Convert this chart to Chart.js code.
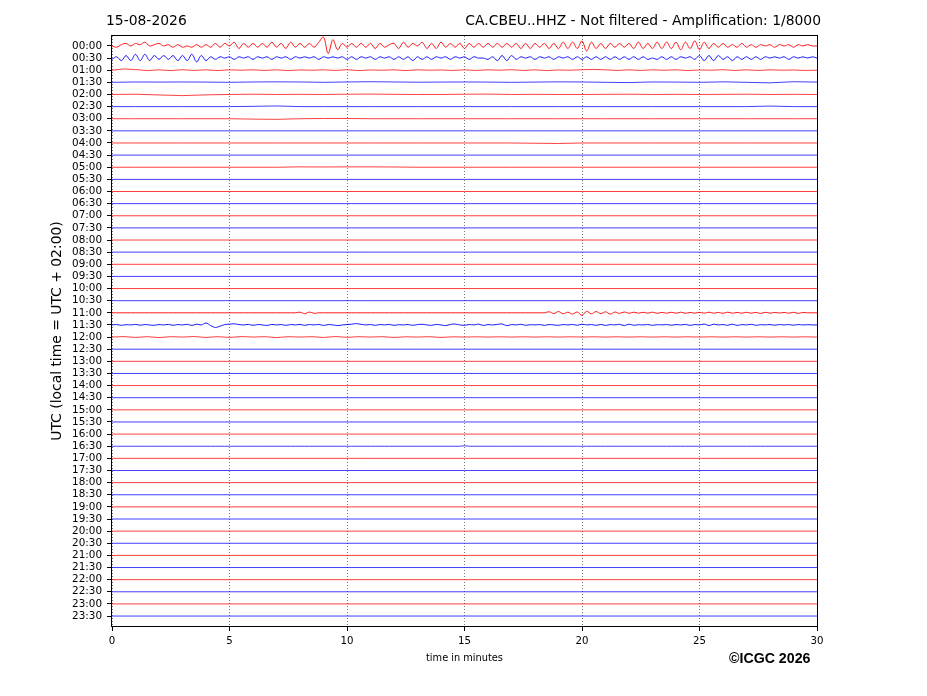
<!DOCTYPE html>
<html>
<head>
<meta charset="utf-8">
<title>CA.CBEU..HHZ helicorder</title>
<script src="https://cdn.jsdelivr.net/npm/chart.js@4.4.1/dist/chart.umd.min.js"></script>
<style>
  body { margin: 0; background: #fff; }
  canvas { display: block; }
</style>
</head>
<body>
<canvas id="helicorder" width="927" height="696"></canvas>
<script>
// tick labels of the rows (UTC, one trace per half hour)
const hourLabels = [
  '00:00','00:30','01:00','01:30','02:00','02:30','03:00','03:30',
  '04:00','04:30','05:00','05:30','06:00','06:30','07:00','07:30',
  '08:00','08:30','09:00','09:30','10:00','10:30','11:00','11:30',
  '12:00','12:30','13:00','13:30','14:00','14:30','15:00','15:30',
  '16:00','16:30','17:00','17:30','18:00','18:30','19:00','19:30',
  '20:00','20:30','21:00','21:30','22:00','22:30','23:00','23:30'
];
const minuteTicks = [0, 5, 10, 15, 20, 25, 30];

// trace samples (upwards positive), evenly spread over 30 min
const r0000 = [
  0, -1, 1, 2, 0, 2, 1, 3, 0, 1,
  2, 0, 1, -1, 1, -1, 0, -1, 1, -1,
  1, -1, 2, -1, 2, 0, 3, -2, 2, -1,
  2, -1, 2, -1, 3, -1, 2, -2, 3, -1,
  2, -1, 2, -1, 3, 7, -6, 5, -3, 2,
  -1, 2, -1, 2, -1, 2, -2, 2, -1, 1,
  2, -2, 3, -1, 2, 0, 3, -2, 2, -2,
  3, -1, 2, -1, 2, -2, 2, -1, 2, -1,
  2, -1, 2, -1, 2, -1, 2, -2, 2, -2,
  2, -1, 2, -2, 2, -2, 3, -2, 3, -2,
  4, -4, 3, -2, 2, -2, 2, -1, 2, -1,
  2, -2, 3, -2, 2, -2, 3, -2, 3, -2,
  3, -3, 3, -2, 4, -3, 3, -2, 2, -1,
  2, -1, 1, -1, 2, -1, 1, -1, 1, 0,
  1, -1, 1, 0, 1, -1, 1, 0, 1, 0, 0
];
const r0030 = [
  -1, 1, -2, 2, -2, 3, -2, 3, -2, 2,
  -1, 2, -1, 2, -2, 2, -2, 3, -3, 2,
  -2, 1, -1, 1, 0, 1, -1, 1, 0, 1,
  -1, 1, 0, 1, -1, 1, 0, 1, -1, 1,
  0, 1, 0, 1, -1, 1, 0, 1, 0, 1,
  -1, 1, -1, 1, 0, 1, -1, 1, 0, 1,
  -1, 1, -1, 1, -2, 1, -1, 1, -1, 1,
  0, 1, -1, 1, 0, 1, -1, 1, 0, 0,
  -1, 1, -2, 2, -2, 2, -1, 1, 0, 1,
  -1, 1, 0, 1, -1, 1, 0, 1, -1, 1,
  -1, 1, -1, 1, -1, 1, -1, 1, -1, 1,
  -1, 1, -1, 1, -1, 0, -1, 1, -1, 1,
  -1, 1, 0, 1, -1, 2, -2, 2, -2, 2,
  -1, 1, -2, 1, -1, 1, -1, 1, -1, 1,
  0, 1, 0, 1, -1, 1, 0, 1, 0, 1, 0
];
const r0100 = [
  0, 1, 0.5, -0.3, 0.3, -0.3, 0.4, -0.2, 0.3, -0.3,
  0.3, 0, 0.3, -0.2, 0.3, -0.3, 0.2, 0, 0.3, -0.2,
  0.4, -0.3, 0.2, 0, 0.3, -0.3, 0.3, 0, 0.2, -0.2,
  0.3, -0.2, 0.3, 0, 0.4, -0.2, 0.3, -0.3, 0.2, 0,
  0.4, 0.6, 0.3, -0.2, 0.3, -0.2, 0.3, 0, 0.3, -0.3,
  0.2, 0, 0.4, -0.2, 0.3, -0.2, 0.3, 0, 0.2, -0.2, 0
];
const r0130 = [
  0, 0.3, 0.2, 0.3, 0.2, 0, 0.3, 0.4, 0.3, 0,
  0.3, 0.5, 0.3, 0.1, 0.2, 0.3, 0.2, 0, 0.2, 0.4,
  0.3, 0, -0.2, 0.3, 0.2, 0, 0.4, 0, -0.4, 0.5, 0.2
];
const r0200 = [
  0, 0.2, -0.4, -0.9, -0.3, 0, 0.2, 0, 0.1, 0,
  0.2, 0.3, 0.1, 0, 0, 0.2, 0.3, 0, 0.1, 0,
  0, 0.1, 0.2, 0, 0.1, 0, 0.1, 0.2, 0, 0.1, 0
];
const r0230 = [
  0, 0, 0, 0, 0, 0, 0.2, 0.5, 0, 0,
  0, 0, 0, 0, 0, 0, 0, 0, 0, 0,
  0, 0, 0, 0, 0, 0, 0, 0, 0.4, 0, 0
];
const r0300 = [
  0, 0, 0, 0, 0, 0, -0.3, -0.5, 0, 0.2,
  0.2, 0, 0, 0, 0, 0, 0, 0, 0, 0,
  0, 0, 0, 0, 0, 0, 0, 0, 0, 0, 0
];
const r0400 = [
  0, 0, 0, 0, 0, 0, 0, 0, 0, 0,
  0, 0, 0, 0, 0, 0, 0, 0, -0.2, -0.4,
  0, 0, 0, 0, 0, 0, 0, 0, 0, 0, 0
];
const r0500 = [
  0, 0, 0, 0, 0, 0, 0, 0, 0.3, 0.2,
  0.3, 0.3, 0.2, 0, 0, 0, 0, 0, 0, 0,
  0, 0, 0, 0, 0, 0, 0, 0, 0, 0, 0
];
const r1100 = [
  0, 0, 0, 0, 0, 0, 0, 0, 0, 0,
  0, 0, 0, 0, 0, 0, 0, 0, 0, 0,
  0, 0, 0, 0, 0, 0, 0, 0, 0, 0,
  0, 0, 0, 0, 0, 0, 0, 0, 0, 0,
  0.5, -0.7, 0.6, -0.4, 0, 0, 0, 0, 0, 0,
  0, 0, 0, 0, 0, 0, 0, 0, 0, 0,
  0, 0, 0, 0, 0, 0, 0, 0, 0, 0,
  0, 0, 0, 0, 0, 0, 0, 0, 0, 0,
  0, 0, 0, 0, 0, 0, 0, 0, 0, 0,
  0, 0, 0, 0.8, -0.6, 1, -0.8, 0.5, -1, 0.6,
  -2, 1.2, -0.8, 1, -0.6, 0.8, -1, 0.6, -0.5, 0.7,
  -0.4, 0.5, -0.3, 0.4, -0.3, 0.5, -0.4, 0.3, -0.3, 0.4,
  -0.3, 0.5, -0.4, 0.3, -0.3, 0.4, -0.3, 0.5, -0.3, 0.3,
  -0.4, 0.5, -0.3, 0.3, -0.3, 0.4, -0.3, 0.3, -0.5, 0.4,
  -0.3, 0.3, -0.2, 0.3, -0.3, 0.4, -0.5, 0.3, 0, 0, 0
];
const r1130 = [
  0, 0.3, -0.3, 0.2, 0, 0.4, -0.2, 0.3, 0, -0.3,
  0.3, 0, 0.4, -0.3, 0.3, 0, 0.5, -0.4, 0.6, 0,
  1.5, -0.5, -2, -1, 0.3, 0.6, 0.9, 0.3, 0, 0.4,
  -0.3, 0.3, 0, -0.4, 0.4, 0, 0.3, -0.3, 0.3, 0,
  0.4, -0.3, 0.3, 0, 0.4, -0.4, 0.3, 0, -0.5, 0,
  0.3, 0.6, 1, 0.5, 0, 0.3, -0.3, 0.3, 0, 0.4,
  -0.3, 0.2, 0, 0.3, -0.3, 0.3, 0.5, 0, -0.3, 0.4,
  0, -0.5, 0.4, 0.7, 0, -0.3, 0.3, 0, 0.6, -0.4,
  0.3, 0, 0.4, 0.8, -0.6, 0.3, 0, 0.5, -0.3, 0.2,
  0, 0.3, -0.3, 0.3, 0, -0.3, 0.3, 0, 0.4, -0.3,
  0.6, 0, 0.3, -0.3, 0.4, -0.4, 0.3, 0, 0.5, -0.5,
  0.6, -0.3, 0.2, 0, 0.3, -0.3, 0.2, 0, 0.3, -0.2,
  0.3, 0, 0.4, -0.3, 0.3, 0, 0.7, -0.5, 0.6, 0,
  0.3, -0.3, 0.6, -0.4, 0.3, 0, 0.5, -0.3, 0.2, 0,
  0.3, -0.2, 0.3, 0, 0.3, -0.2, 0.3, 0, 0.2, 0, 0
];
const r1200 = [
  0, 0.4, -0.3, 0.3, -0.4, 0.3, 0, 0.4, -0.3, 0.3,
  -0.3, 0.4, 0, 0.3, -0.4, 0.3, 0, 0.3, -0.3, 0.4,
  -0.2, 0.3, 0, 0.3, -0.3, 0.2, 0, 0.3, -0.3, 0.2,
  0, 0.2, 0, 0.2, 0, 0.2, 0, 0.2, 0, 0.2,
  0, 0.2, 0, 0.2, 0, 0.2, 0, 0.2, 0, 0.2,
  0, 0.2, 0, 0.2, 0, 0.2, 0, 0.2, 0, 0.2, 0
];
const r1630 = [
  0, 0, 0, 0, 0, 0, 0, 0, 0, 0,
  0, 0, 0, 0, 0, 0, 0, 0, 0, 0,
  0, 0, 0, 0, 0, 0, 0, 0, 0, 0,
  0, 0, 0, 0, 0, 0, 0, 0, 0, 0,
  0, 0, 0, 0, 0, 0, 0, 0, 0, 0,
  0, 0, 0, 0, 0, 0, 0, 0, 0, 0,
  0, 0, 0, 0, 0, 0, 0, 0, 0, 0,
  0, 0, 0, 0, 0, 0.4, 0, 0, 0, 0,
  0, 0, 0, 0, 0, 0, 0, 0, 0, 0,
  0, 0, 0, 0, 0, 0, 0, 0, 0, 0,
  0, 0, 0, 0, 0, 0, 0, 0, 0, 0,
  0, 0, 0, 0, 0, 0, 0, 0, 0, 0,
  0, 0, 0, 0, 0, 0, 0, 0, 0, 0,
  0, 0, 0, 0, 0, 0, 0, 0, 0, 0,
  0, 0, 0, 0, 0, 0, 0, 0, 0, 0, 0
];
const flat = [0, 0];

const rowTraces = {
  '00:00': r0000, '00:30': r0030, '01:00': r0100, '01:30': r0130,
  '02:00': r0200, '02:30': r0230, '03:00': r0300, '04:00': r0400,
  '05:00': r0500, '11:00': r1100, '11:30': r1130, '12:00': r1200,
  '16:30': r1630
};

const traceColors = ['#ff0000', '#0000ff'];
const ampScale = 1 / 9.6; // rows per amplitude unit

const datasets = hourLabels.map((label, row) => {
  const samples = rowTraces[label] || flat;
  const step = 30 / (samples.length - 1);
  const busy = samples.length > 100 && label !== '16:30';
  return {
    label: label,
    data: samples.map((v, k) => ({ x: k * step, y: row - v * ampScale })),
    borderColor: traceColors[row % 2],
    borderWidth: busy ? 0.9 : 0.75,
    pointRadius: 0,
    tension: busy ? 0.35 : 0,
    fill: false
  };
});

const decor = {
  id: 'decor',
  afterDraw(chart) {
    const c = chart.ctx;
    const a = chart.chartArea;
    c.save();
    c.strokeStyle = '#000';
    c.lineWidth = 1;
    c.strokeRect(Math.round(a.left) - 0.5, Math.round(a.top) - 0.5,
      Math.round(a.right - a.left) + 1, Math.round(a.bottom - a.top) + 1);

    c.fillStyle = '#000';
    c.font = '13.9px "DejaVu Sans"';
    c.textBaseline = 'alphabetic';
    c.textAlign = 'left';
    c.fillText('15-08-2026', 106, 25);
    c.textAlign = 'right';
    c.fillText('CA.CBEU..HHZ - Not filtered - Amplification: 1/8000', 821, 25);

    c.font = '9.8px "DejaVu Sans"';
    c.textAlign = 'center';
    c.fillText('time in minutes', (a.left + a.right) / 2, 661);

    c.font = 'bold 14.2px "Liberation Sans"';
    c.textAlign = 'left';
    c.fillText('\u00A9ICGC 2026', 729, 663);

    c.translate(57, (a.top + a.bottom) / 2);
    c.rotate(-Math.PI / 2);
    c.font = '13.9px "DejaVu Sans"';
    c.textAlign = 'center';
    c.textBaseline = 'middle';
    c.fillText('UTC (local time = UTC + 02:00)', 0, 0);
    c.restore();
  }
};

var ctx = document.getElementById('helicorder').getContext('2d');
var chart = new Chart(ctx, {
  type: 'line',
  data: { datasets: datasets },
  options: {
    responsive: false,
    animation: false,
    devicePixelRatio: 1,
    layout: { padding: { top: 36, right: 110, bottom: 0, left: 0 } },
    plugins: {
      legend: { display: false },
      tooltip: { enabled: false }
    },
    scales: {
      x: {
        type: 'linear',
        min: 0,
        max: 30,
        afterBuildTicks: (scale) => { scale.ticks = minuteTicks.map(v => ({ value: v })); },
        afterFit: (scale) => { scale.height = 70; },
        ticks: {
          color: '#000',
          font: { family: 'DejaVu Sans', size: 10.2 },
          padding: 4,
          maxRotation: 0
        },
        grid: {
          color: '#555',
          lineWidth: 0.8,
          tickLength: 5,
          tickColor: '#000',
          tickWidth: 1
        },
        border: { display: false, dash: [1, 2] }
      },
      y: {
        type: 'linear',
        reverse: true,
        min: -0.82,
        max: 47.82,
        afterBuildTicks: (scale) => { scale.ticks = hourLabels.map((_, i) => ({ value: i })); },
        afterFit: (scale) => { scale.width = 112; },
        ticks: {
          autoSkip: false,
          color: '#000',
          font: { family: 'DejaVu Sans', size: 10.4 },
          padding: 5,
          callback: (v) => hourLabels[v]
        },
        grid: {
          drawOnChartArea: false,
          tickLength: 5,
          tickColor: '#000',
          tickWidth: 1
        },
        border: { display: false }
      }
    }
  },
  plugins: [decor]
});
</script>
</body>
</html>
